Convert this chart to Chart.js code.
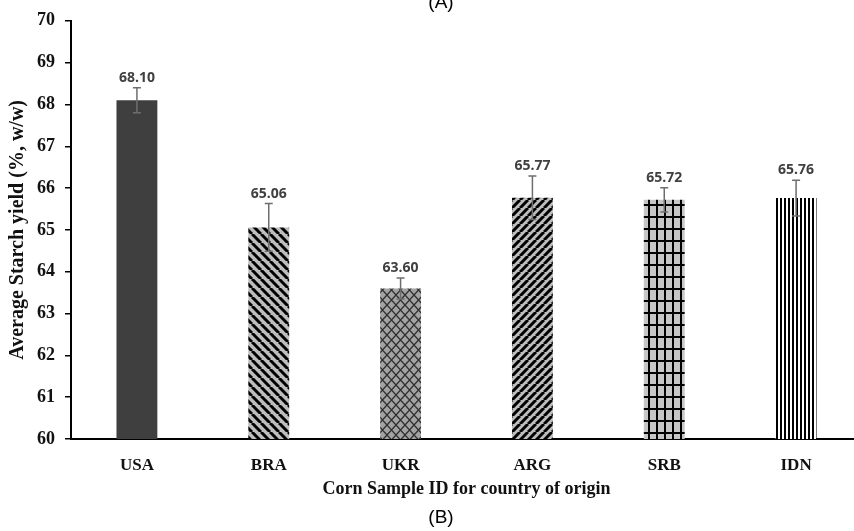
<!DOCTYPE html>
<html>
<head>
<meta charset="utf-8">
<script src="https://cdn.jsdelivr.net/npm/chart.js@4/dist/chart.umd.min.js"></script>
<style>
  html, body { margin: 0; padding: 0; background: #fff; overflow: hidden; width: 854px; height: 531px; }
  #wrap { width: 880px; height: 531px; }
</style>
</head>
<body>
<div id="wrap"><canvas id="c" width="880" height="531"></canvas></div>
<script>
// ---- data ----
const categories = ['USA', 'BRA', 'UKR', 'ARG', 'SRB', 'IDN'];
const values = [68.10, 65.06, 63.60, 65.77, 65.72, 65.76];
const errors = [0.30, 0.57, 0.25, 0.52, 0.29, 0.43];
const valueLabels = ['68.10', '65.06', '63.60', '65.77', '65.72', '65.76'];
const yTitle = 'Average Starch yield (%, w/w)';
const xTitle = 'Corn Sample ID for country of origin';
const topCaption = '(A)';
const bottomCaption = '(B)';

// ---- patterns ----
function tile(w, h, draw) {
  const c = document.createElement('canvas');
  c.width = w; c.height = h;
  const g = c.getContext('2d');
  draw(g, w, h);
  return g.createPattern(c, 'repeat');
}
function diag(bg, s, lw, dir) {
  return tile(s, s, (g, w, h) => {
    g.fillStyle = bg; g.fillRect(0, 0, w, h);
    g.strokeStyle = '#000'; g.lineWidth = lw;
    for (let k = -1; k <= 1; k++) {
      g.beginPath();
      if (dir > 0) { g.moveTo(k * s, 0); g.lineTo(k * s + s, s); }
      else { g.moveTo(k * s + s, 0); g.lineTo(k * s, s); }
      g.stroke();
    }
  });
}
const fills = [
  '#3f3f3f',
  diag('#bdbdbd', 9, 3, 1),
  tile(9, 10, (g, w, h) => {
    g.fillStyle = '#a3a3a3'; g.fillRect(0, 0, w, h);
    g.strokeStyle = '#2e2e2e'; g.lineWidth = 1.2;
    g.beginPath();
    g.moveTo(0, h / 2); g.lineTo(w / 2, 0); g.lineTo(w, h / 2); g.lineTo(w / 2, h); g.closePath();
    g.stroke();
  }),
  diag('#bdbdbd', 8, 3, -1),
  tile(8, 12, (g, w, h) => {
    g.fillStyle = '#c6c6c6'; g.fillRect(0, 0, w, h);
    g.fillStyle = '#000';
    g.fillRect(0, 0, 2, h); g.fillRect(0, 0, w, 2);
  }),
  tile(4, 4, (g, w, h) => {
    g.fillStyle = '#fff'; g.fillRect(0, 0, w, h);
    g.fillStyle = '#000'; g.fillRect(0, 0, 2, h);
  })
];

// ---- plugin: error bars, value labels, captions ----
const extras = {
  id: 'extras',
  afterDatasetsDraw(chart) {
    const ctx = chart.ctx;
    const x = chart.scales.x, y = chart.scales.y;
    ctx.save();
    for (let i = 0; i < values.length; i++) {
      const cx = x.getPixelForValue(i);
      const yt = y.getPixelForValue(values[i] + errors[i]);
      const yb = y.getPixelForValue(values[i] - errors[i]);
      ctx.strokeStyle = '#6e6e6e';
      ctx.lineWidth = 1.5;
      ctx.beginPath();
      ctx.moveTo(cx, yt); ctx.lineTo(cx, yb);
      ctx.moveTo(cx - 4, yt); ctx.lineTo(cx + 4, yt);
      ctx.moveTo(cx - 4, yb); ctx.lineTo(cx + 4, yb);
      ctx.stroke();
      ctx.fillStyle = '#404040';
      ctx.font = 'bold 14px "Open Sans", sans-serif';
      ctx.textAlign = 'center';
      ctx.textBaseline = 'alphabetic';
      ctx.fillText(valueLabels[i], cx, yt - 6);
    }
    const mid = 441;
    ctx.fillStyle = '#000';
    ctx.font = '19px "Liberation Sans", Arial, sans-serif';
    ctx.textAlign = 'center';
    ctx.textBaseline = 'alphabetic';
    ctx.fillText(topCaption, mid, 8);
    ctx.fillText(bottomCaption, mid, 523);
    ctx.restore();
  }
};

new Chart(document.getElementById('c'), {
  type: 'bar',
  data: {
    labels: categories,
    datasets: [{
      data: values,
      backgroundColor: fills,
      borderWidth: 0,
      categoryPercentage: 1.0,
      barPercentage: 0.31
    }]
  },
  options: {
    responsive: false,
    animation: false,
    devicePixelRatio: 1,
    layout: { padding: { left: 0, right: 18, top: 16, bottom: 0 } },
    plugins: { legend: { display: false }, tooltip: { enabled: false } },
    scales: {
      x: {
        grid: { display: false, drawTicks: false },
        border: { display: true, color: '#000', width: 2 },
        ticks: {
          color: '#111',
          padding: 16,
          font: { family: '"Liberation Serif", "Times New Roman", serif', weight: 'bold', size: 17 }
        },
        title: {
          display: true, text: xTitle, color: '#111',
          font: { family: '"Liberation Serif", "Times New Roman", serif', weight: 'bold', size: 18 },
          padding: { top: 0, bottom: 31 }
        },
        afterFit: s => { s.height = 92; }
      },
      y: {
        min: 60, max: 70,
        ticks: {
          stepSize: 1, color: '#111', padding: 10,
          font: { family: '"Liberation Serif", "Times New Roman", serif', weight: 'bold', size: 18 }
        },
        grid: { display: true, drawOnChartArea: false, drawTicks: true, tickLength: 6, color: '#000', lineWidth: 1.5 },
        border: { display: true, color: '#000', width: 2 },
        title: {
          display: true, text: yTitle, color: '#111',
          font: { family: '"Liberation Serif", "Times New Roman", serif', weight: 'bold', size: 20 },
          padding: { top: 6, bottom: 0 }
        },
        afterFit: s => { s.width = 71; }
      }
    }
  },
  plugins: [extras]
});
</script>
</body>
</html>
